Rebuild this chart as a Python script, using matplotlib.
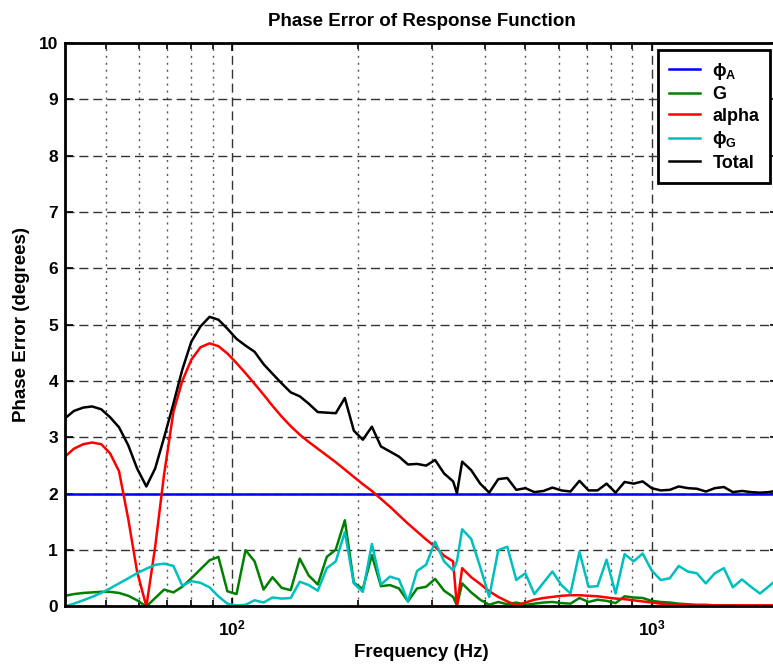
import numpy as np
import matplotlib
matplotlib.use("Agg")
import matplotlib.pyplot as plt
from matplotlib.ticker import NullFormatter, FixedLocator

plt.rcParams['font.family'] = ['Liberation Sans', 'DejaVu Sans']
plt.rcParams['font.weight'] = 'bold'
plt.rcParams['mathtext.fontset'] = 'custom'
plt.rcParams['mathtext.rm'] = 'Liberation Sans:bold'
plt.rcParams['mathtext.it'] = 'Liberation Sans:bold'
plt.rcParams['mathtext.bf'] = 'Liberation Sans:bold'

# frequency grid (Hz), log spaced 40..2000 plus the point at the 343.5 Hz notch
freq_hz = [
    40.0, 42.0, 44.2, 46.4, 48.8, 51.2, 53.8, 56.6, 59.4, 62.5,
    65.6, 68.9, 72.5, 76.1, 80.0, 84.1, 88.4, 92.8, 97.5, 102.5,
    107.7, 113.2, 118.9, 124.9, 131.3, 138.0, 145.0, 152.3, 160.1, 168.2,
    176.7, 185.7, 195.1, 205.0, 215.4, 226.4, 237.9, 249.9, 262.6, 276.0,
    290.0, 304.7, 320.2, 336.4, 343.5, 353.5, 371.4, 390.3, 410.1, 430.9,
    452.8, 475.8, 500.0, 525.3, 552.0, 580.0, 609.5, 640.4, 672.9, 707.1,
    743.0, 780.7, 820.3, 861.9, 905.7, 951.7, 1000.0, 1050.7, 1104.1, 1160.1,
    1219.0, 1280.9, 1345.9, 1414.2, 1486.0, 1561.4, 1640.6, 1723.9, 1811.4, 1903.3,
    2000.0,
]

# actuation phase uncertainty (deg), flat
phi_a_deg = 2.0

# sensing gain G contribution (deg)
g_deg = [
    0.19, 0.22, 0.24, 0.25, 0.26, 0.26, 0.24, 0.19, 0.11, 0.00,
    0.15, 0.30, 0.25, 0.35, 0.50, 0.66, 0.82, 0.88, 0.27, 0.22,
    1.00, 0.80, 0.30, 0.52, 0.33, 0.29, 0.85, 0.55, 0.39, 0.88,
    1.01, 1.53, 0.42, 0.31, 0.91, 0.36, 0.38, 0.32, 0.09, 0.32,
    0.35, 0.49, 0.28, 0.17, 0.02, 0.41, 0.25, 0.12, 0.03, 0.08,
    0.04, 0.07, 0.03, 0.05, 0.07, 0.08, 0.06, 0.05, 0.15, 0.08,
    0.12, 0.10, 0.06, 0.18, 0.16, 0.15, 0.10, 0.08, 0.07, 0.05,
    0.04, 0.03, 0.03, 0.02, 0.02, 0.02, 0.01, 0.01, 0.01, 0.01,
    0.01,
]

# optical gain (alpha) contribution (deg)
alpha_deg = [
    2.66, 2.80, 2.88, 2.91, 2.88, 2.72, 2.40, 1.55, 0.62, 0.00,
    1.06, 2.35, 3.45, 4.00, 4.38, 4.60, 4.67, 4.62, 4.49, 4.32,
    4.14, 3.95, 3.76, 3.56, 3.37, 3.20, 3.05, 2.92, 2.80, 2.68,
    2.56, 2.43, 2.30, 2.17, 2.05, 1.91, 1.77, 1.62, 1.47, 1.33,
    1.19, 1.06, 0.90, 0.80, 0.00, 0.68, 0.52, 0.40, 0.27, 0.17,
    0.09, 0.02, 0.07, 0.12, 0.15, 0.17, 0.19, 0.20, 0.20, 0.19,
    0.18, 0.16, 0.14, 0.13, 0.11, 0.09, 0.07, 0.05, 0.04, 0.03,
    0.02, 0.02, 0.02, 0.02, 0.02, 0.02, 0.02, 0.02, 0.02, 0.02,
    0.02,
]

# sensing phase contribution (deg)
phi_g_deg = [
    0.00, 0.05, 0.11, 0.17, 0.24, 0.32, 0.41, 0.50, 0.59, 0.67,
    0.74, 0.76, 0.72, 0.37, 0.45, 0.42, 0.34, 0.18, 0.05, 0.02,
    0.03, 0.11, 0.07, 0.16, 0.14, 0.15, 0.44, 0.38, 0.28, 0.68,
    0.80, 1.32, 0.41, 0.26, 1.11, 0.39, 0.53, 0.48, 0.09, 0.63,
    0.74, 1.15, 0.80, 0.64, 0.80, 1.37, 1.20, 0.70, 0.17, 1.00,
    1.06, 0.47, 0.59, 0.22, 0.42, 0.62, 0.38, 0.23, 0.97, 0.35,
    0.36, 0.83, 0.23, 0.93, 0.80, 0.94, 0.64, 0.47, 0.50, 0.72,
    0.62, 0.59, 0.41, 0.59, 0.68, 0.34, 0.48, 0.35, 0.23, 0.36,
    0.50,
]

# total phase error (deg)
total_deg = [
    3.34, 3.47, 3.53, 3.55, 3.50, 3.36, 3.18, 2.86, 2.45, 2.13,
    2.45, 3.00, 3.60, 4.20, 4.70, 4.97, 5.14, 5.09, 4.93, 4.75,
    4.63, 4.52, 4.30, 4.13, 3.96, 3.80, 3.73, 3.60, 3.45, 3.44,
    3.43, 3.70, 3.12, 2.96, 3.19, 2.84, 2.75, 2.66, 2.52, 2.53,
    2.50, 2.60, 2.36, 2.22, 2.01, 2.57, 2.42, 2.18, 2.02, 2.26,
    2.28, 2.07, 2.10, 2.03, 2.05, 2.11, 2.06, 2.04, 2.23, 2.06,
    2.06, 2.18, 2.02, 2.21, 2.18, 2.22, 2.10, 2.06, 2.07, 2.13,
    2.10, 2.09, 2.04, 2.10, 2.12, 2.03, 2.05, 2.03, 2.02, 2.03,
    2.06,
]

freq = np.array(freq_hz)

fig = plt.figure(figsize=(7.73, 6.65), dpi=100)
ax = fig.add_axes([0.0841, 0.088, 0.9224, 0.8473])

lw = 1.8
ax.plot(freq, np.full(len(freq), phi_a_deg), color=(0, 0, 1), lw=lw, label=r'$\phi_A$')
ax.plot(freq, g_deg, color=(0, 0.5, 0), lw=lw, label='G')
ax.plot(freq, alpha_deg, color=(1, 0, 0), lw=lw, label='alpha')
ax.plot(freq, phi_g_deg, color=(0, 0.75, 0.75), lw=lw, label=r'$\phi_G$')
ax.plot(freq, total_deg, color='black', lw=lw, label='Total')

ax.set_xscale('log')
ax.set_xlim(40, 2000)
ax.set_ylim(0, 10)
ax.set_yticks(range(0, 11))
ax.xaxis.set_major_locator(FixedLocator([100, 1000]))
ax.set_xticklabels([r'$10^{2}$', r'$10^{3}$'])
ax.xaxis.set_minor_locator(FixedLocator([50, 60, 70, 80, 90, 200, 300, 400, 500, 600, 700, 800, 900]))
ax.xaxis.set_minor_formatter(NullFormatter())

ax.grid(True, which='major', axis='both', color='#333333', lw=1.0, linestyle=(0, (6.5, 3.5)))
ax.grid(True, which='minor', axis='x', color='#555555', lw=1.0, linestyle=(0, (1.5, 3.5)))
ax.set_axisbelow(True)

ax.tick_params(which='both', direction='in', top=True, right=True, width=1.2, labelsize=12.5)
ax.tick_params(which='major', length=6)
ax.tick_params(which='minor', length=4)
ax.tick_params(axis='x', which='major', pad=9)
ax.tick_params(axis='y', which='major', pad=5)
for s in ax.spines.values():
    s.set_linewidth(2.0)

ax.set_title('Phase Error of Response Function', fontsize=13.5, fontweight='bold', pad=12)
ax.set_xlabel('Frequency (Hz)', fontsize=13.5, fontweight='bold', labelpad=4)
ax.set_ylabel('Phase Error (degrees)', fontsize=13.5, fontweight='bold', labelpad=6)

leg = ax.legend(loc='upper right', bbox_to_anchor=(0.989, 0.988), fontsize=13,
                fancybox=False, framealpha=1, edgecolor='black', handlelength=1.7,
                handletextpad=0.7, labelspacing=0.25, borderpad=0.6, borderaxespad=0)
leg.get_frame().set_linewidth(2.0)

fig.savefig('out.png', dpi=100)
